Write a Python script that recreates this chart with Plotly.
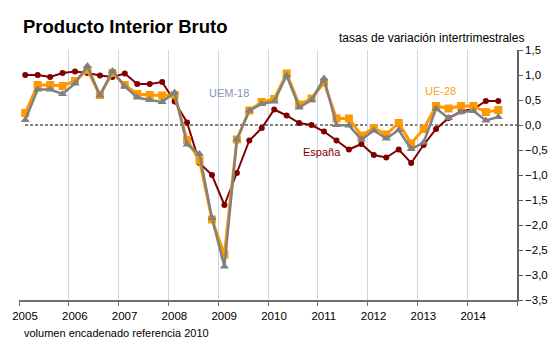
import plotly.graph_objects as go

# Quarterly data 2005Q1 .. 2014Q3
years = list(range(2005, 2015))
quarters_per_year = 4
n_points = 39

espana = [1.00, 1.00, 0.96, 1.04,
          1.07, 1.04, 0.99, 0.96,
          1.03, 0.82, 0.82, 0.86,
          0.47, 0.05, -0.76, -1.00,
          -1.60, -0.96, -0.31, -0.06,
          0.31, 0.19, 0.04, 0.00,
          -0.13, -0.31, -0.49, -0.38,
          -0.60, -0.65, -0.49, -0.76,
          -0.40, -0.08, 0.14, 0.27,
          0.32, 0.48, 0.48]

ue28 = [0.24, 0.80, 0.80, 0.78,
        0.88, 1.10, 0.60, 1.04,
        0.80, 0.62, 0.60, 0.59,
        0.60, -0.30, -0.71, -1.89,
        -2.59, -0.29, 0.29, 0.46,
        0.52, 1.03, 0.41, 0.53,
        0.85, 0.13, 0.13, -0.21,
        -0.06, -0.19, 0.04, -0.37,
        -0.08, 0.38, 0.33, 0.38,
        0.38, 0.26, 0.30]

uem18 = [0.10, 0.71, 0.71, 0.62,
         0.83, 1.18, 0.59, 1.08,
         0.77, 0.55, 0.50, 0.46,
         0.65, -0.39, -0.58, -1.86,
         -2.83, -0.29, 0.29, 0.42,
         0.47, 0.99, 0.35, 0.50,
         0.93, 0.00, -0.01, -0.29,
         -0.11, -0.27, -0.10, -0.48,
         -0.35, 0.33, 0.14, 0.26,
         0.28, 0.09, 0.16]

year_ticks = list(range(2005, 2016))
year_labels = [str(y) for y in range(2005, 2015)] + [""]
y_ticks = [1.5, 1.0, 0.5, 0.0, -0.5, -1.0, -1.5, -2.0, -2.5, -3.0, -3.5]

x = [2005 + (i + 0.5) / quarters_per_year for i in range(n_points)]

RED = "#800000"
ORANGE = "#FF9900"
GRAY = "#808080"
FONT = "Liberation Sans, Arial, sans-serif"

fig = go.Figure()
fig.add_trace(go.Scatter(x=x, y=espana, mode="lines+markers", name="España",
                         line=dict(color=RED, width=2),
                         marker=dict(symbol="circle", size=6, color=RED)))
fig.add_trace(go.Scatter(x=x, y=ue28, mode="lines+markers", name="UE-28",
                         line=dict(color=ORANGE, width=3),
                         marker=dict(symbol="square", size=8, color=ORANGE)))
fig.add_trace(go.Scatter(x=x, y=uem18, mode="lines+markers", name="UEM-18",
                         line=dict(color=GRAY, width=2.5),
                         marker=dict(symbol="triangle-up", size=8, color=GRAY)))

fig.add_shape(type="line", xref="paper", yref="y", x0=0.012, x1=1, y0=0, y1=0,
              line=dict(color="black", width=1.2, dash="3px,2px"), layer="below")

annotations = [
    dict(text="<b>Producto Interior Bruto</b>", xref="paper", yref="paper",
         x=0.005, y=1.093, xanchor="left", yanchor="middle", showarrow=False,
         font=dict(size=18.5, color="black", family=FONT)),
    dict(text="tasas de variación intertrimestrales", xref="paper", yref="paper",
         x=1.018, y=1.049, xanchor="right", yanchor="middle", showarrow=False,
         font=dict(size=12, color="black", family=FONT)),
    dict(text="volumen encadenado referencia 2010", xref="paper", yref="paper",
         x=0.006, y=-0.132, xanchor="left", yanchor="middle", showarrow=False,
         font=dict(size=11, color="black", family=FONT)),
    dict(text="UEM-18", x=2009.21, y=0.64, showarrow=False,
         font=dict(size=11, color="#8496B0", family=FONT)),
    dict(text="España", x=2011.08, y=-0.54, showarrow=False,
         font=dict(size=11, color=RED, family=FONT)),
    dict(text="UE-28", x=2013.46, y=0.68, showarrow=False,
         font=dict(size=11, color="#FFA020", family=FONT)),
]

fig.update_layout(
    width=560, height=343,
    margin=dict(l=17, r=43, t=50, b=43),
    paper_bgcolor="white", plot_bgcolor="white",
    showlegend=False,
    separators=",.",
    font=dict(family=FONT, size=11, color="black"),
    annotations=annotations,
    xaxis=dict(range=[2005, 2015], tickvals=year_ticks, ticktext=year_labels,
               showgrid=True, gridcolor="#C8D6EE", gridwidth=1,
               showline=True, linecolor="#707070", linewidth=1.5,
               ticks="outside", ticklen=4, tickcolor="#707070",
               ticklabelshift=6, zeroline=False,
               tickfont=dict(size=11.5, color="black", family=FONT)),
    yaxis=dict(range=[-3.5, 1.5], side="right", tickvals=y_ticks,
               tickformat=".1f", showgrid=False, zeroline=False,
               showline=True, linecolor="#606060", linewidth=1.5,
               ticks="outside", ticklen=4, tickcolor="#606060",
               tickfont=dict(size=11.5, color="black", family=FONT)),
)

fig.write_html("out.html")
